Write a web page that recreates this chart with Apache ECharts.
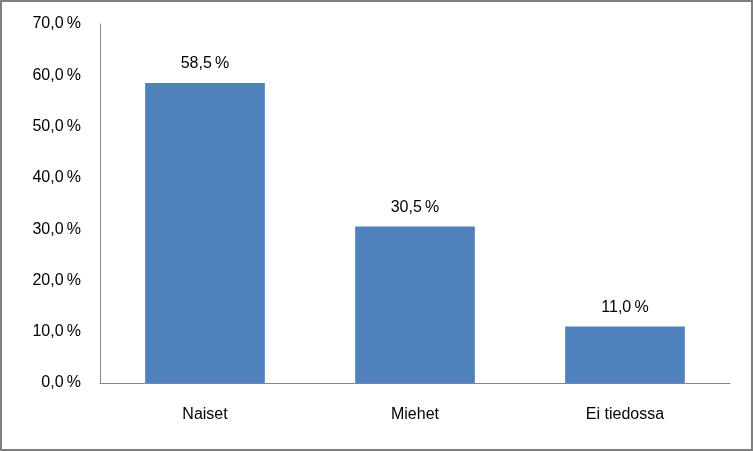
<!DOCTYPE html>
<html>
<head>
<meta charset="utf-8">
<script src="https://cdn.jsdelivr.net/npm/echarts@6/dist/echarts.min.js"></script>
<style>
  html, body { margin: 0; padding: 0; background: #fff; }
  #chart { width: 749px; height: 447px; border: 2px solid #7f7f7f; }
</style>
</head>
<body>
<div id="chart"></div>
<script>
var categories = ['Naiset', 'Miehet', 'Ei tiedossa'];
var shares = [58.5, 30.5, 11.0];
var yTicks = [0, 10, 20, 30, 40, 50, 60, 70];

function pct(v) {
  return v.toFixed(1).replace('.', ',') + '\u2009%';
}

var myChart = echarts.init(document.getElementById('chart'));
var font = 'Liberation Sans';
var option = {
  animation: false,
  grid: { left: 98, right: 21, top: 22, bottom: 66 },
  xAxis: {
    type: 'category',
    data: categories,
    axisLine: { lineStyle: { color: '#868686', width: 1 } },
    axisTick: { show: false },
    axisLabel: { color: '#000', fontFamily: font, fontSize: 16, margin: 24 }
  },
  yAxis: {
    type: 'value',
    min: yTicks[0],
    max: yTicks[yTicks.length - 1],
    interval: 10,
    axisLine: { show: true, lineStyle: { color: '#868686', width: 1 } },
    axisTick: { show: false },
    splitLine: { show: false },
    axisLabel: {
      color: '#000', fontFamily: font, fontSize: 16, margin: 19,
      formatter: function (v) { return pct(v); }
    }
  },
  series: [{
    type: 'bar',
    data: shares,
    barWidth: '57%',
    itemStyle: { color: '#4f81bd' },
    label: {
      show: true,
      position: 'top',
      distance: 11,
      color: '#000',
      fontFamily: font,
      fontSize: 16,
      formatter: function (p) { return pct(p.value); }
    }
  }]
};
myChart.setOption(option);
</script>
</body>
</html>
